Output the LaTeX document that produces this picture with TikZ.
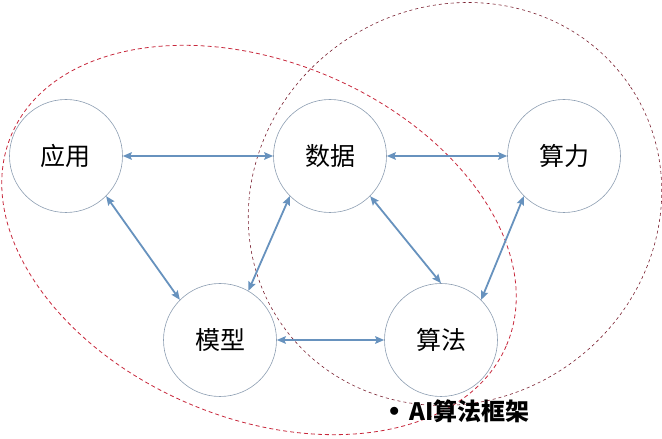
\documentclass[tikz,border=0pt]{standalone}
\usepackage{fontspec}
\newfontfamily\cjk{Noto Sans CJK SC}
\usetikzlibrary{arrows.meta}
\definecolor{arrowblue}{HTML}{6792BE}
\definecolor{ringgray}{HTML}{8E9FB3}
\definecolor{redA}{HTML}{C8283C}
\definecolor{redB}{HTML}{7A2030}
\tikzset{
  item/.style={circle, draw=ringgray, line width=0.6pt, minimum size=113pt, inner sep=0pt, font=\cjk\fontsize{25}{25}\selectfont},
  link/.style={draw=arrowblue, line width=1.8pt, {Stealth[length=9pt,width=7.5pt,inset=1.5pt]}-{Stealth[length=9pt,width=7.5pt,inset=1.5pt]}},
  groupA/.style={draw=redA, line width=0.8pt, dash pattern=on 4pt off 3pt},
  groupB/.style={draw=redB, line width=0.6pt, dash pattern=on 3pt off 3pt},
}
\begin{document}
\begin{tikzpicture}[x=1pt,y=1pt]
\fill[white] (0,0) rectangle (662,439);
\useasboundingbox (0,0) rectangle (662,439);
\draw[groupA] (259,199) ellipse [x radius=269, y radius=178, rotate=-23];
\draw[groupB] (455,235) ellipse [x radius=211, y radius=197, rotate=34];
\node[item] (yy) at (66,283) {应用};
\node[item] (sj) at (330,283) {数据};
\node[item] (sl) at (564,283) {算力};
\node[item] (mx) at (220,99) {模型};
\node[item] (sf) at (441,99) {算法};
\draw[link] (yy.east) -- (sj.west);
\draw[link] (sj.east) -- (sl.west);
\draw[link] (yy.-45) -- (mx.135);
\draw[link] (sj.225) -- (mx.60);
\draw[link] (sj.-45) -- (sf.90);
\draw[link] (sl.225) -- (sf.45);
\draw[link] (mx.east) -- (sf.west);
\node[anchor=west, inner sep=0pt, font=\cjk\bfseries\fontsize{24}{24}\selectfont] (cap) at (389,28) {\raisebox{3.5pt}{\fontsize{20}{20}\selectfont$\bullet$}\hspace{10pt}AI算法框架};
\end{tikzpicture}
\end{document}
